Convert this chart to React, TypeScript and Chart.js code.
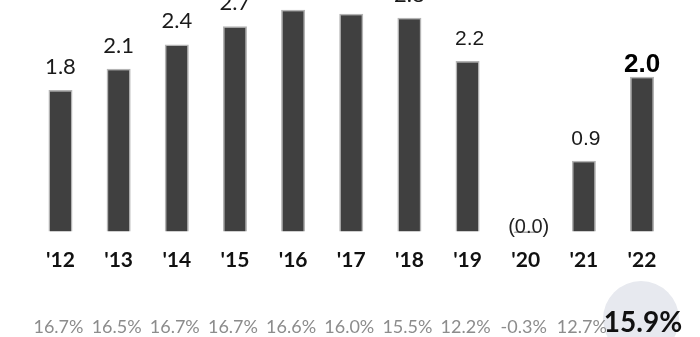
import React, { useEffect, useRef } from "react";
import { Chart, registerables } from "chart.js";

Chart.register(...registerables);

const categories = ["'12", "'13", "'14", "'15", "'16", "'17", "'18", "'19", "'20", "'21", "'22"];
const barValues = [1.8, 2.07, 2.38, 2.61, 2.82, 2.77, 2.72, 2.17, -0.02, 0.9, 1.97];
const valueLabels = ["1.8", "2.1", "2.4", "2.7", "2.9", "2.8", "2.8", "2.2", "(0.0)", "0.9", "2.0"];
const marginLabels = ["16.7%", "16.5%", "16.7%", "16.7%", "16.6%", "16.0%", "15.5%", "12.2%", "-0.3%", "12.7%", "15.9%"];

const labelPlugin = {
  id: "labels",
  afterDatasetsDraw(chart: any) {
    const ctx = chart.ctx;
    const x = chart.scales.x;
    const y = chart.scales.y;
    const last = categories.length - 1;
    ctx.save();
    ctx.textAlign = "center";
    ctx.textBaseline = "alphabetic";
    // value labels
    barValues.forEach((v, i) => {
      const cx = x.getPixelForValue(i);
      const top = y.getPixelForValue(Math.max(v, 0));
      if (i === last) {
        ctx.font = "bold 26px 'Liberation Sans', Arial, sans-serif";
        ctx.fillStyle = "#000";
        ctx.fillText(valueLabels[i], cx, top - 5);
      } else if (v < 0) {
        ctx.font = "20px 'Liberation Sans', Arial, sans-serif";
        ctx.fillStyle = "#222";
        ctx.fillText(valueLabels[i], cx + 3, y.getPixelForValue(0) + 2);
      } else {
        const arial = i === 7 || i === 9;
        ctx.font = arial ? "21px 'Liberation Sans', Arial, sans-serif" : "22px Lato, sans-serif";
        ctx.fillStyle = "#1a1a1a";
        ctx.fillText(valueLabels[i], cx + (arial ? 2 : 0), top - 16);
      }
    });
    // category labels
    ctx.font = "bold 21px Lato, sans-serif";
    ctx.fillStyle = "#111";
    categories.forEach((c, i) => {
      ctx.fillText(c, x.getPixelForValue(i), 266.5);
    });
    // highlight circle
    const lx = x.getPixelForValue(last);
    ctx.beginPath();
    ctx.arc(lx - 1, 319, 38, 0, Math.PI * 2);
    ctx.fillStyle = "#e7e9ef";
    ctx.fill();
    // margin labels
    marginLabels.forEach((m, i) => {
      const cx = x.getPixelForValue(i);
      if (i === last) {
        ctx.font = "bold 28px Lato, sans-serif";
        ctx.fillStyle = "#111";
        ctx.fillText(m, cx + 1, 331.5);
      } else {
        ctx.font = "18px Lato, sans-serif";
        ctx.fillStyle = "#8c8c8c";
        ctx.fillText(m, cx - 2, 332.5);
      }
    });
    ctx.restore();
  },
};

export default function App() {
  const ref = useRef<HTMLCanvasElement>(null);
  useEffect(() => {
    if (!ref.current) return;
    const chart = new Chart(ref.current, {
      type: "bar",
      data: {
        labels: categories,
        datasets: [
          {
            data: barValues,
            backgroundColor: "#404040",
            borderColor: "#b4b4b4",
            borderWidth: 1.5,
            barPercentage: 0.413,
            categoryPercentage: 1,
          },
        ],
      },
      options: {
        responsive: false,
        animation: false,
        devicePixelRatio: 1,
        layout: { padding: { top: 0, bottom: 101.6, left: 31.4, right: 28.9 } },
        plugins: { legend: { display: false }, tooltip: { enabled: false } },
        scales: {
          x: { display: false },
          y: { display: false, min: -0.05, max: 2.945 },
        },
      },
      plugins: [labelPlugin],
    });
    return () => chart.destroy();
  }, []);
  return (
    <div style={{ position: "fixed", left: 0, top: 0, width: 700, height: 337, background: "#fff" }}>
      <canvas ref={ref} width={700} height={337} />
    </div>
  );
}
